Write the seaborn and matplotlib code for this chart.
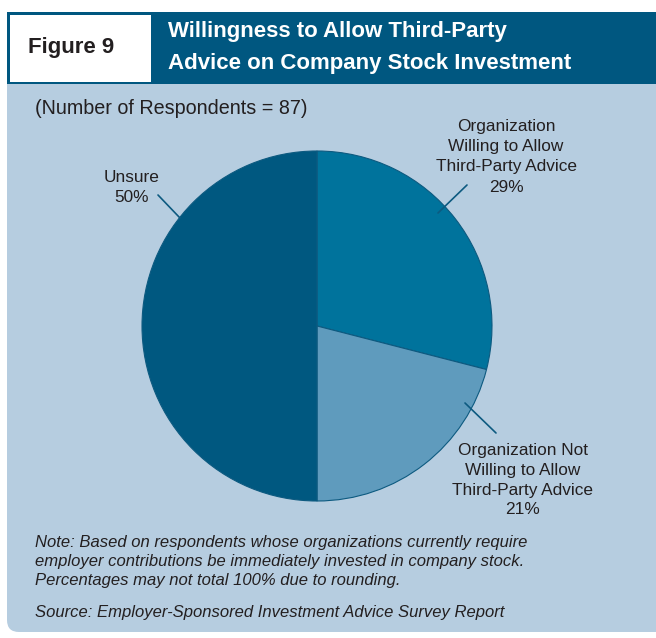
import matplotlib
matplotlib.use("Agg")
import matplotlib.pyplot as plt
from matplotlib.patches import Rectangle, FancyBboxPatch
import seaborn as sns

# ---- data ----
categories = ["Organization\nWilling to Allow\nThird-Party Advice",
              "Organization Not\nWilling to Allow\nThird-Party Advice",
              "Unsure"]
shares = [29, 21, 50]
respondents = 87

title_lines = ["Willingness to Allow Third-Party",
               "Advice on Company Stock Investment"]
figure_tag = "Figure 9"
note_lines = ["Note: Based on respondents whose organizations currently require",
              "employer contributions be immediately invested in company stock.",
              "Percentages may not total 100% due to rounding."]
source_line = "Source: Employer-Sponsored Investment Advice Survey Report"

# ---- style ----
sns.set_theme(style="white")
plt.rcParams["font.family"] = ["Liberation Sans", "DejaVu Sans"]

W, H = 656, 638
navy = "#005780"
panel = "#b6cde0"
ink = "#231f20"
slice_colors = sns.color_palette(["#00739c", "#5f9bbd", "#005880"])
edge = "#0d5a80"

fig = plt.figure(figsize=(W / 100, H / 100), dpi=100)
ax = fig.add_axes([0, 0, 1, 1])


def Y(y):
    """Convert top-down pixel row to axis coordinate."""
    return H - y


# light panel with rounded lower-left corner
ax.add_patch(FancyBboxPatch((7, Y(632)), 700, 560,
                            boxstyle="round,pad=0,rounding_size=12",
                            facecolor=panel, edgecolor="none", zorder=0))
# header bar with the white figure tag box
ax.add_patch(Rectangle((7, Y(84)), W, 72, facecolor=navy, edgecolor="none", zorder=1))
ax.add_patch(Rectangle((10, Y(82)), 141, 67, facecolor="white", edgecolor="none", zorder=2))

ax.text(71, Y(47), figure_tag, ha="center", va="center", fontsize=16,
        fontweight="bold", color=ink, zorder=3)
ax.text(168, Y(31), title_lines[0], ha="left", va="center", fontsize=16,
        fontweight="bold", color="white", zorder=3)
ax.text(168, Y(63), title_lines[1], ha="left", va="center", fontsize=16,
        fontweight="bold", color="white", zorder=3)

ax.text(35, Y(108), f"(Number of Respondents = {respondents})", ha="left",
        va="center", fontsize=14.2, color=ink)

# pie
cx, cy, r = 317, Y(326), 175
ax.pie(shares, colors=slice_colors, startangle=90, counterclock=False,
       center=(cx, cy), radius=r, frame=True,
       wedgeprops=dict(edgecolor=edge, linewidth=0.8))

# slice labels with leader lines
label_spec = [
    (0, (506, [127, 147, 167, 187]), ((438, 213), (467, 185))),
    (1, (523, [450, 470, 490, 510]), ((465, 403), (496, 433))),
    (2, (132, [177, 197]), ((158, 195), (180, 218))),
]
for idx, (tx, rows), (p0, p1) in label_spec:
    lines = categories[idx].split("\n") + [f"{shares[idx]}%"]
    for line, row in zip(lines, rows):
        ax.text(tx, Y(row), line, ha="center", va="center", fontsize=12.4, color=ink)
    ax.plot([p0[0], p1[0]], [Y(p0[1]), Y(p1[1])], color=edge, lw=1.2)

for i, line in enumerate(note_lines):
    ax.text(35, Y(543 + 18.5 * i), line, ha="left", va="center", fontsize=12,
            style="italic", color=ink)
ax.text(35, Y(613), source_line, ha="left", va="center", fontsize=12,
        style="italic", color=ink)

ax.set_xlim(0, W)
ax.set_ylim(0, H)
ax.set_aspect("auto")
ax.axis("off")
fig.patch.set_facecolor("white")
fig.savefig("out.png", dpi=100, facecolor="white")
